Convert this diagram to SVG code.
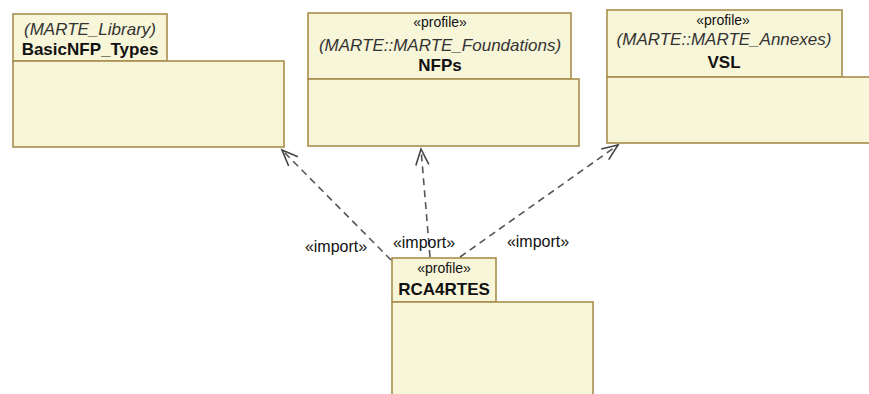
<svg xmlns="http://www.w3.org/2000/svg" width="869" height="394" viewBox="0 0 869 394">
  <style>
    .pkg { fill: #f8f6d9; stroke: #a88e4e; stroke-width: 1.6; }
    .st { font-family: "Liberation Sans", Arial, sans-serif; font-size: 14px; fill: #111; text-anchor: middle; }
    .ns { font-family: "Liberation Sans", Arial, sans-serif; font-size: 17px; font-style: italic; fill: #333; text-anchor: middle; }
    .nm { font-family: "Liberation Sans", Arial, sans-serif; font-size: 17px; font-weight: bold; fill: #111; text-anchor: middle; }
    .dep { fill: none; stroke: #555; stroke-width: 1.6; stroke-dasharray: 7 5; }
    .lbl { font-family: "Liberation Sans", Arial, sans-serif; font-size: 16px; fill: #111; text-anchor: middle; }
  </style>
  <defs>
    <!-- open arrowhead for «import» dependencies -->
    <marker id="open" markerUnits="userSpaceOnUse" markerWidth="20" markerHeight="16" refX="17" refY="8" orient="auto">
      <path d="M1,1.5 L17,8 L1,14.5" fill="none" stroke="#444" stroke-width="1.6"/>
    </marker>
  </defs>

  <g id="BasicNFP_Types">
    <rect class="pkg" x="13" y="14" width="154" height="47"/>
    <rect class="pkg" x="13" y="61" width="271" height="86"/>
    <text class="ns" x="90" y="35">(MARTE_Library)</text>
    <text class="nm" x="90" y="55">BasicNFP_Types</text>
  </g>

  <g id="NFPs">
    <rect class="pkg" x="308" y="13" width="263" height="66"/>
    <rect class="pkg" x="308" y="79" width="271" height="67"/>
    <text class="st" x="440" y="27">«profile»</text>
    <text class="ns" x="440" y="51">(MARTE::MARTE_Foundations)</text>
    <text class="nm" x="440" y="71">NFPs</text>
  </g>

  <g id="VSL">
    <rect class="pkg" x="607" y="10" width="235" height="67"/>
    <rect class="pkg" x="607" y="77" width="266" height="66"/>
    <text class="st" x="723" y="25">«profile»</text>
    <text class="ns" x="724" y="45">(MARTE::MARTE_Annexes)</text>
    <text class="nm" x="724" y="68">VSL</text>
  </g>

  <g id="RCA4RTES">
    <rect class="pkg" x="392" y="258" width="104" height="44"/>
    <rect class="pkg" x="392" y="302" width="201" height="96"/>
    <text class="st" x="444" y="273">«profile»</text>
    <text class="nm" x="444" y="295">RCA4RTES</text>
  </g>

  <g id="connectors">
    <line class="dep" x1="391" y1="260" x2="282" y2="150" marker-end="url(#open)"/>
    <line class="dep" x1="430" y1="257" x2="421" y2="149" marker-end="url(#open)"/>
    <line class="dep" x1="460" y1="257" x2="618" y2="145" marker-end="url(#open)"/>
    <text class="lbl" x="336" y="252">«import»</text>
    <text class="lbl" x="424" y="248">«import»</text>
    <text class="lbl" x="538" y="247">«import»</text>
  </g>
</svg>
